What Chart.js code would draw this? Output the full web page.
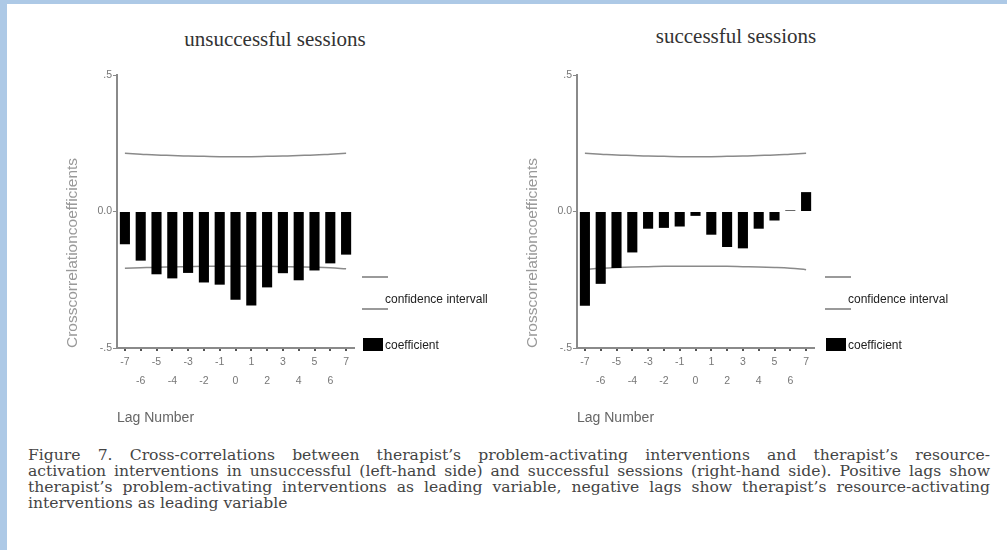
<!DOCTYPE html>
<html>
<head>
<meta charset="utf-8">
<script src="https://cdn.jsdelivr.net/npm/chart.js@4.4.1/dist/chart.umd.min.js"></script>
<style>
  html, body { margin: 0; padding: 0; }
  body { width: 1007px; height: 550px; background: #adc9e6; position: relative; overflow: hidden; }
  #sheet { position: absolute; left: 7px; top: 4px; right: 0; bottom: 0; background: #fff; }
  .ttl { position: absolute; width: 300px; text-align: center; font-family: "Liberation Serif", serif; font-size: 21px; color: #333; }
  .box { position: absolute; top: 55px; width: 460px; height: 380px; }
  #caption { position: absolute; left: 28px; top: 447px; width: 962px; font-family: "DejaVu Serif", serif; font-size: 15.6px; line-height: 16px; color: #444; }
  #caption div { text-align: justify; text-align-last: justify; }
  #caption div.last { text-align-last: left; }
</style>
</head>
<body>
<div id="sheet"></div>
<div class="ttl" style="left:125px; top:27px;">unsuccessful sessions</div>
<div class="ttl" style="left:586px; top:24px;">successful sessions</div>
<div class="box" style="left:50px;"><canvas id="leftChart"></canvas></div>
<div class="box" style="left:510px;"><canvas id="rightChart"></canvas></div>
<div id="caption">
  <div>Figure 7. Cross-correlations between therapist’s problem-activating interventions and therapist’s resource-</div>
  <div>activation interventions in unsuccessful (left-hand side) and successful sessions (right-hand side). Positive lags show</div>
  <div>therapist’s problem-activating interventions as leading variable, negative lags show therapist’s resource-activating</div>
  <div class="last">interventions as leading variable</div>
</div>
<script>
// lags on the x axis
const lags = [-7, -6, -5, -4, -3, -2, -1, 0, 1, 2, 3, 4, 5, 6, 7];

// y axis ticks
const yTickValues = [-0.5, 0, 0.5];
const yTickLabels = ['-.5', '0.0', '.5'];

// unsuccessful sessions
const coefUnsuccessful = [-0.12, -0.18, -0.23, -0.245, -0.225, -0.26, -0.268, -0.323, -0.344, -0.278, -0.226, -0.252, -0.216, -0.19, -0.158];
const upperUnsuccessful = [0.213, 0.210, 0.207, 0.205, 0.203, 0.202, 0.201, 0.201, 0.201, 0.202, 0.203, 0.205, 0.207, 0.210, 0.213];
const lowerUnsuccessful = [-0.208, -0.206, -0.204, -0.203, -0.202, -0.201, -0.201, -0.201, -0.201, -0.201, -0.202, -0.203, -0.204, -0.206, -0.210];

// successful sessions
const coefSuccessful = [-0.345, -0.265, -0.207, -0.15, -0.063, -0.06, -0.055, -0.016, -0.085, -0.13, -0.135, -0.063, -0.033, 0.004, 0.071];
const upperSuccessful = [0.213, 0.210, 0.207, 0.205, 0.203, 0.202, 0.201, 0.201, 0.201, 0.202, 0.203, 0.205, 0.207, 0.210, 0.213];
const lowerSuccessful = [-0.212, -0.208, -0.205, -0.203, -0.202, -0.201, -0.201, -0.201, -0.201, -0.201, -0.202, -0.203, -0.205, -0.208, -0.213];

// odd lags on the first row, even lags on the second
const lagLabels = lags.map(l => (Math.abs(l) % 2 === 1 ? [String(l), ''] : ['', String(l)]));

// draws the little legend to the right of the plot
const sideLegend = {
    id: 'sideLegend',
    afterDraw(chart, args, opts) {
        const ctx = chart.ctx;
        const r = chart.chartArea.right;
        ctx.save();
        ctx.strokeStyle = '#9a9a9a';
        ctx.lineWidth = 2;
        ctx.beginPath();
        ctx.moveTo(r + opts.dx, 222); ctx.lineTo(r + opts.dx + 26, 222);
        ctx.moveTo(r + opts.dx, 254); ctx.lineTo(r + opts.dx + 26, 254);
        ctx.stroke();
        ctx.fillStyle = '#000';
        ctx.fillRect(r + opts.dx + 1, 283, 20, 13);
        ctx.fillStyle = '#222';
        ctx.font = '12px "Liberation Sans", Arial, sans-serif';
        ctx.textBaseline = 'middle';
        ctx.fillText(opts.ciText, r + opts.dx + 23, 245);
        ctx.fillText('coefficient', r + opts.dx + 23, 291);
        ctx.restore();
    }
};

function makeChart(id, coef, upper, lower, ciText, dx) {
    const ctx = document.getElementById(id).getContext('2d');
    return new Chart(ctx, {
        type: 'bar',
        data: {
            labels: lagLabels,
            datasets: [{
                type: 'bar',
                label: 'coefficient',
                data: coef,
                backgroundColor: '#000',
                barPercentage: 0.64,
                categoryPercentage: 1
            }, {
                type: 'line',
                label: 'upper',
                data: upper,
                borderColor: '#8a8a8a',
                borderWidth: 1.5,
                pointRadius: 0,
                tension: 0.4
            }, {
                type: 'line',
                label: 'lower',
                data: lower,
                borderColor: '#8a8a8a',
                borderWidth: 1.5,
                pointRadius: 0,
                tension: 0.4
            }]
        },
        options: {
            responsive: true,
            maintainAspectRatio: false,
            animation: false,
            layout: { padding: { top: 20, right: 156, bottom: 0, left: 0 } },
            plugins: {
                legend: { display: false },
                tooltip: { enabled: false },
                sideLegend: { ciText: ciText, dx: dx }
            },
            scales: {
                x: {
                    offset: true,
                    afterFit: s => { s.height = 87; },
                    grid: { offset: false, drawOnChartArea: false, drawTicks: true, tickLength: 3, color: '#555', lineWidth: 2 },
                    border: { display: true, color: '#8a8a8a', width: 2 },
                    ticks: {
                        maxRotation: 0, autoSkip: false, padding: 1.5, color: '#777',
                        font: { family: '"Liberation Sans", Arial, sans-serif', size: 10.5, lineHeight: '19px' }
                    },
                    title: {
                        display: true, text: 'Lag Number', align: 'start', color: '#666',
                        font: { family: '"Liberation Sans", Arial, sans-serif', size: 14 },
                        padding: { top: 0, bottom: 8.5 }
                    }
                },
                y: {
                    min: -0.5,
                    max: 0.5,
                    afterFit: s => { s.width = 67; },
                    afterBuildTicks: s => { s.ticks = yTickValues.map(v => ({ value: v })); },
                    grid: { drawOnChartArea: false, drawTicks: true, tickLength: 4, color: '#8a8a8a' },
                    border: { display: true, color: '#8a8a8a', width: 2 },
                    ticks: {
                        padding: 1, color: '#777',
                        font: { family: '"Liberation Sans", Arial, sans-serif', size: 10.5 },
                        callback: (v, i) => yTickLabels[i]
                    },
                    title: {
                        display: true, text: 'Crosscorrelationcoefficients', align: 'start', color: '#999',
                        font: { family: '"Liberation Sans", Arial, sans-serif', size: 15.5 },
                        padding: { top: 13.5, bottom: 0 }
                    }
                }
            }
        },
        plugins: [sideLegend]
    });
}

makeChart('leftChart', coefUnsuccessful, upperUnsuccessful, lowerUnsuccessful, 'confidence intervall', 8);
makeChart('rightChart', coefSuccessful, upperSuccessful, lowerSuccessful, 'confidence interval', 11);
</script>
</body>
</html>
